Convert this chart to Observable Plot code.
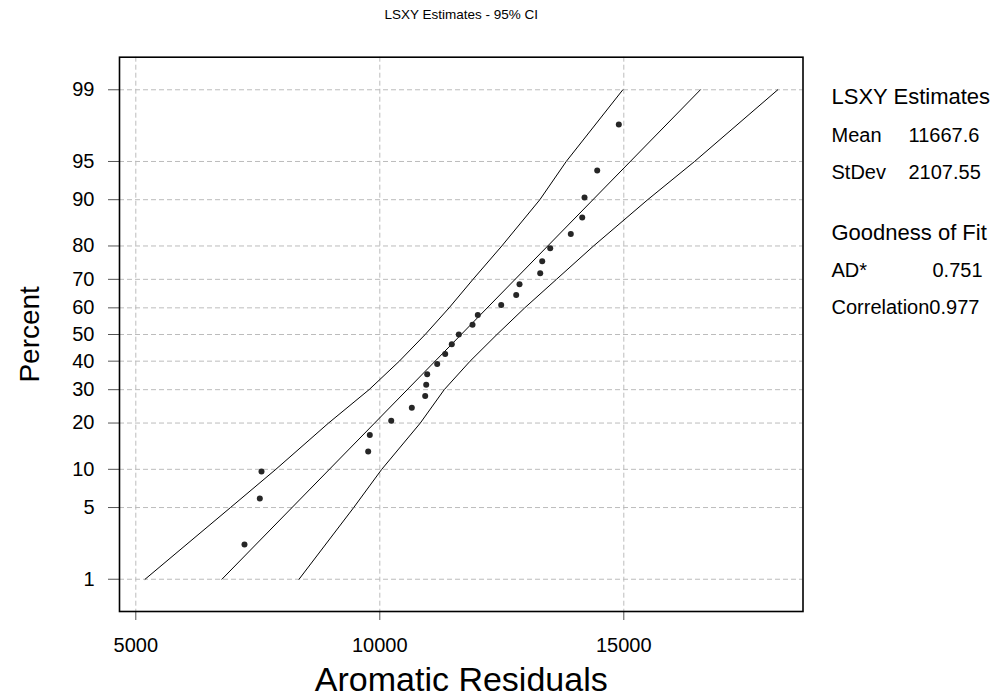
<!DOCTYPE html>
<html>
<head>
<meta charset="utf-8">
<script src="https://cdn.jsdelivr.net/npm/d3@7"></script>
<script src="https://cdn.jsdelivr.net/npm/@observablehq/plot@0.6"></script>
<style>
  html, body { margin: 0; padding: 0; background: #fff; }
  #chart svg { display: block; }
</style>
</head>
<body>
<div id="chart"></div>
<script>
// ---- Data ----
const percentTicks = [1, 5, 10, 20, 30, 40, 50, 60, 70, 80, 90, 95, 99];
const xTicks = [5000, 10000, 15000];

// Observations (Aromatic Residuals) and their plotted percents
const residuals = [7227, 7541, 7576, 9762, 9795, 10234, 10656, 10930, 10951, 10971,
  11176, 11340, 11475, 11619, 11900, 12008, 12488, 12795, 12863, 13287,
  13328, 13492, 13914, 14148, 14195, 14455, 14898];
const plotPercent = [2.29, 5.96, 9.63, 13.30, 16.97, 20.64, 24.31, 27.98, 31.65, 35.32,
  38.99, 42.66, 46.33, 50.00, 53.67, 57.34, 61.01, 64.68, 68.35, 72.02,
  75.69, 79.36, 83.03, 86.70, 90.37, 94.04, 97.71];

// Fitted line endpoints
const fitPercent = [1, 99];
const fitResidual = [6765, 16570];

// 95% confidence bands
const ciPercent = [1, 5, 10, 20, 30, 40, 50, 60, 70, 80, 90, 95, 99];
const ciLower = [5190, 6940, 7870, 8950, 9780, 10400, 10930, 11420, 11910, 12500, 13280, 13820, 14980];
const ciUpper = [8345, 9465, 10040, 10830, 11320, 11850, 12400, 12970, 13620, 14380, 15490, 16450, 18155];

// Legend / statistics text
const titleText = "LSXY Estimates - 95% CI";
const xLabel = "Aromatic Residuals";
const yLabel = "Percent";
const statsHeading = "LSXY Estimates";
const statNames = ["Mean", "StDev"];
const statValues = ["11667.6", "2107.55"];
const gofHeading = "Goodness of Fit";
const adName = "AD*", adValue = "0.751";
const corrText = "Correlation0.977";

// ---- Normal probability transform (inverse normal CDF, Acklam) ----
function probit(p) {
  const a = [-3.969683028665376e+01, 2.209460984245205e+02, -2.759285104469687e+02, 1.383577518672690e+02, -3.066479806614716e+01, 2.506628277459239e+00];
  const b = [-5.447609879822406e+01, 1.615858368580409e+02, -1.556989798598866e+02, 6.680131188771972e+01, -1.328068155288572e+01];
  const c = [-7.784894002430293e-03, -3.223964580411365e-01, -2.400758277161838e+00, -2.549671348283755e+00, 4.374664141464968e+00, 2.938163982698783e+00];
  const d = [7.784695709041462e-03, 3.224671290700398e-01, 2.445134137142996e+00, 3.754408661907416e+00];
  const plow = 0.02425, phigh = 1 - plow;
  let q, r;
  if (p < plow) {
    q = Math.sqrt(-2 * Math.log(p));
    return (((((c[0]*q+c[1])*q+c[2])*q+c[3])*q+c[4])*q+c[5]) / ((((d[0]*q+d[1])*q+d[2])*q+d[3])*q+1);
  }
  if (p <= phigh) {
    q = p - 0.5; r = q * q;
    return (((((a[0]*r+a[1])*r+a[2])*r+a[3])*r+a[4])*r+a[5])*q / (((((b[0]*r+b[1])*r+b[2])*r+b[3])*r+b[4])*r+1);
  }
  q = Math.sqrt(-2 * Math.log(1 - p));
  return -(((((c[0]*q+c[1])*q+c[2])*q+c[3])*q+c[4])*q+c[5]) / ((((d[0]*q+d[1])*q+d[2])*q+d[3])*q+1);
}
const z = pct => probit(pct / 100);

// ---- Tables built from the arrays ----
const points = residuals.map((v, i) => ({x: v, p: plotPercent[i]}));
const fit = fitPercent.map((p, i) => ({x: fitResidual[i], p}));
const lower = ciPercent.map((p, i) => ({x: ciLower[i], p}));
const upper = ciPercent.map((p, i) => ({x: ciUpper[i], p}));
const zTicks = percentTicks.map(z);
const zLabel = new Map(zTicks.map((t, i) => [t.toFixed(6), String(percentTicks[i])]));

const W = 1005, H = 700;
const mL = 119, mR = 202.5, mT = 56.7, mB = 89;
const font = "'Liberation Sans', Arial, Helvetica, sans-serif";
const gridStyle = {stroke: "#bcbcbc", strokeOpacity: 1, strokeWidth: 1, strokeDasharray: "5,3"};

// text placed relative to the top-left corner of the frame (absolute page px given)
function pageText(txt, px, py, opts = {}) {
  return Plot.text([txt], {
    frameAnchor: "top-left", dx: px - mL, dy: py - mT,
    textAnchor: "start", lineAnchor: "middle", fill: "black", fontSize: 20, ...opts
  });
}

const chart = Plot.plot({
  width: W, height: H,
  marginLeft: mL, marginRight: mR, marginTop: mT, marginBottom: mB,
  style: {fontFamily: font, background: "#fff", overflow: "visible"},
  x: {type: "linear", domain: [4666, 18672]},
  y: {type: "linear", domain: [-2.633, 2.636]},
  marks: [
    Plot.gridX(xTicks, gridStyle),
    Plot.gridY(zTicks, gridStyle),
    Plot.axisX(xTicks, {tickSize: 9, tickPadding: 17, fontSize: 20, stroke: "#555", fill: "black",
      tickFormat: d => String(d), label: null}),
    Plot.axisY(zTicks, {tickSize: 11, tickPadding: 14, fontSize: 20, stroke: "#555", fill: "black",
      tickFormat: t => zLabel.get(t.toFixed(6)), label: null}),
    Plot.line(lower, {x: "x", y: d => z(d.p), stroke: "black", strokeWidth: 1}),
    Plot.line(upper, {x: "x", y: d => z(d.p), stroke: "black", strokeWidth: 1}),
    Plot.line(fit, {x: "x", y: d => z(d.p), stroke: "black", strokeWidth: 1}),
    Plot.dot(points, {x: "x", y: d => z(d.p), r: 3, fill: "#262626", stroke: "none"}),
    Plot.frame({stroke: "black", strokeWidth: 1.6}),
    // title and axis labels
    Plot.text([titleText], {frameAnchor: "top", dy: 14 - mT, lineAnchor: "middle", fontSize: 13.5, fill: "black"}),
    Plot.text([xLabel], {frameAnchor: "bottom", textAnchor: "middle", dy: 680 - 611, lineAnchor: "middle", fontSize: 34, fill: "black"}),
    Plot.text([yLabel], {frameAnchor: "left", textAnchor: "middle", dx: 30 - mL, rotate: -90, lineAnchor: "middle", fontSize: 28, fill: "black"}),
    // statistics box
    pageText(statsHeading, 831, 96, {fontSize: 22}),
    pageText(statNames[0], 831, 135),
    pageText(statValues[0], 908, 135),
    pageText(statNames[1], 831, 172),
    pageText(statValues[1], 908, 172),
    pageText(gofHeading, 831, 232, {fontSize: 22}),
    pageText(adName, 831, 270),
    pageText(adValue, 932, 270),
    pageText(corrText, 831, 307)
  ]
});
document.getElementById("chart").appendChild(chart);
</script>
</body>
</html>
